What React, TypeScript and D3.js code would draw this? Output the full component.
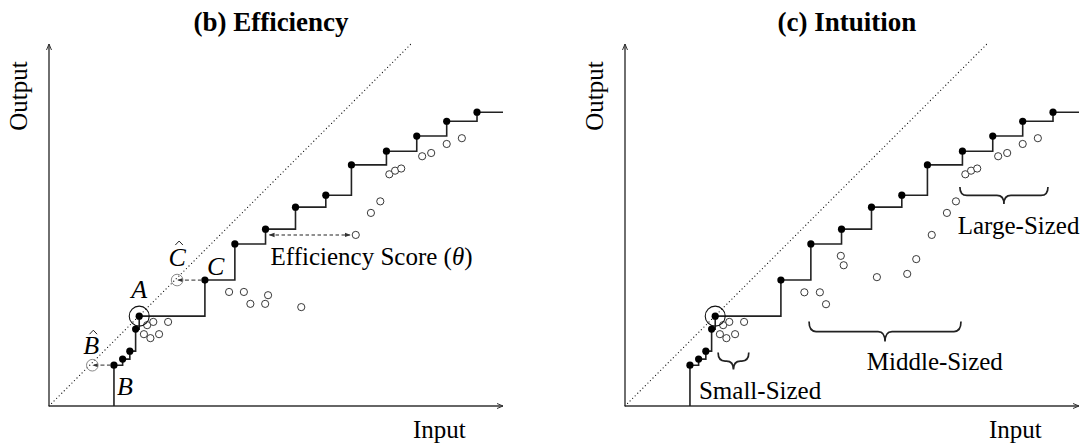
import React from "react";
import * as d3 from "d3";

// ---- data (Input / Output units) ----
const X_MAX = 12.58;
const Y_MAX = 10.03;
const DIAG_END = 10.05;

const frontierInput = [1.8, 2.04, 2.24, 2.4, 2.5, 4.32, 5.15, 6.0, 6.83, 7.67, 8.38, 9.35, 10.19, 11.02, 11.86];
const frontierOutput = [1.13, 1.3, 1.52, 2.13, 2.49, 3.49, 4.49, 4.9, 5.51, 5.84, 6.68, 7.06, 7.48, 7.89, 8.14];

const smallInput = [2.72, 2.89, 3.3, 2.63, 2.81, 3.05];
const smallOutput = [2.24, 2.33, 2.33, 1.99, 1.88, 1.99];

const largeInput = [9.43, 9.59, 9.76, 10.34, 10.59, 11.02, 11.44];
const largeOutput = [6.42, 6.52, 6.58, 6.92, 7.01, 7.26, 7.42];

const effMidInput = [4.99, 5.4, 5.58, 5.99, 6.07, 6.99, 8.5, 8.92, 9.18];
const effMidOutput = [3.16, 3.16, 2.83, 2.83, 3.07, 2.74, 4.74, 5.35, 5.67];

const intMidInput = [4.97, 5.4, 5.57, 5.98, 6.06, 6.98, 7.82, 8.07, 8.5, 8.92, 9.17];
const intMidOutput = [3.15, 3.15, 2.82, 4.16, 3.9, 3.57, 3.66, 4.07, 4.74, 5.35, 5.67];

const panelTitles = ["(b) Efficiency", "(c) Intuition"];
const axisLabels = ["Input", "Output"];

// efficiency projections
const bHat = [1.2, 1.13];
const cHat = [3.55, 3.49];
const efficientIndex = 4; // A
const bIndex = 0;
const cIndex = 5;
const scoreFromIndex = 7;
const scoreTarget = [8.5, 4.74];

// size groups (intuition panel)
const groupNames = ["Small-Sized", "Middle-Sized", "Large-Sized"];
const groupStart = [2.58, 5.1, 9.28];
const groupEnd = [3.43, 9.31, 11.72];
const groupTop = [1.48, 2.34, 6.07];
const groupLabelX = [2.05, 6.7, 9.22];
const groupLabelY = [0.19, 1.0, 4.76];

const SERIF = "'Liberation Serif', 'Times New Roman', serif";

function bracePath(x0: number, x1: number, y0: number, h: number) {
  const xm = (x0 + x1) / 2;
  const ym = y0 + h * 0.5;
  const y1 = y0 + h;
  const r = Math.min(7, (x1 - x0) / 4);
  return `M${x0},${y0} Q${x0},${ym} ${x0 + r},${ym} L${xm - r},${ym} Q${xm},${ym} ${xm},${y1} Q${xm},${ym} ${xm + r},${ym} L${x1 - r},${ym} Q${x1},${ym} ${x1},${y0}`;
}

function hatPath(cx: number, baseY: number) {
  return `M${cx - 3.8},${baseY + 4} L${cx},${baseY} L${cx + 3.8},${baseY + 4}`;
}

function Panel({ ox, idx }: { ox: number; idx: number }) {
  const x = d3.scaleLinear().domain([0, X_MAX]).range([ox, ox + 454]);
  const y = d3.scaleLinear().domain([0, Y_MAX]).range([406, 44]);
  const pts: [number, number][] = [
    [frontierInput[0], 0],
    ...frontierInput.map((v, i) => [v, frontierOutput[i]] as [number, number]),
    [X_MAX, frontierOutput[frontierOutput.length - 1]],
  ];
  const step = d3
    .line<[number, number]>()
    .x((d) => x(d[0]))
    .y((d) => y(d[1]))
    .curve(d3.curveStepAfter)(pts) as string;

  const midX = idx === 0 ? effMidInput : intMidInput;
  const midY = idx === 0 ? effMidOutput : intMidOutput;
  const hollowX = [...smallInput, ...midX, ...largeInput];
  const hollowY = [...smallOutput, ...midY, ...largeOutput];

  const ax = x(frontierInput[efficientIndex]);
  const ay = y(frontierOutput[efficientIndex]);

  return (
    <g>
      <text x={ox + 222} y={31} textAnchor="middle" fontFamily={SERIF} fontWeight="bold" fontSize={27}>
        {panelTitles[idx]}
      </text>
      {/* axes */}
      <line x1={x(0)} y1={y(0)} x2={x(X_MAX)} y2={y(0)} stroke="#333" strokeWidth={1.4} markerEnd="url(#axTip)" />
      <line x1={x(0)} y1={y(0)} x2={x(0)} y2={y(Y_MAX)} stroke="#333" strokeWidth={1.4} markerEnd="url(#axTip)" />
      <text x={ox + 364} y={438} fontFamily={SERIF} fontSize={25}>
        {axisLabels[0]}
      </text>
      <text transform={`translate(${ox - 22},96) rotate(-90)`} textAnchor="middle" fontFamily={SERIF} fontSize={25}>
        {axisLabels[1]}
      </text>
      {/* diagonal */}
      <line
        x1={x(0)}
        y1={y(0)}
        x2={x(DIAG_END)}
        y2={y(DIAG_END)}
        stroke="#222"
        strokeWidth={1.3}
        strokeDasharray="0,3.6"
        strokeLinecap="round"
      />
      {/* frontier */}
      <path d={step} fill="none" stroke="#222" strokeWidth={1.6} />
      {hollowX.map((v, i) => (
        <circle key={"h" + i} cx={x(v)} cy={y(hollowY[i])} r={3.6} fill="white" stroke="#222" strokeWidth={0.9} />
      ))}
      {frontierInput.map((v, i) => (
        <circle key={"f" + i} cx={x(v)} cy={y(frontierOutput[i])} r={3.6} fill="#000" />
      ))}
      <circle cx={ax} cy={ay} r={10} fill="none" stroke="#111" strokeWidth={1.1} />

      {idx === 0 && (
        <g>
          {/* projections */}
          <line
            x1={x(frontierInput[bIndex]) - 3}
            y1={y(frontierOutput[bIndex])}
            x2={x(bHat[0]) + 1}
            y2={y(bHat[1])}
            stroke="#555"
            strokeWidth={1.3}
            strokeDasharray="4,2.5"
            markerEnd="url(#smallTip)"
          />
          <circle cx={x(bHat[0])} cy={y(bHat[1])} r={5.8} fill="none" stroke="#888" strokeWidth={1} />
          <line
            x1={x(frontierInput[cIndex]) - 3}
            y1={y(frontierOutput[cIndex])}
            x2={x(cHat[0]) + 1}
            y2={y(cHat[1])}
            stroke="#555"
            strokeWidth={1.3}
            strokeDasharray="4,2.5"
            markerEnd="url(#smallTip)"
          />
          <circle cx={x(cHat[0])} cy={y(cHat[1])} r={5.8} fill="none" stroke="#888" strokeWidth={1} />
          {/* score arrow */}
          <line
            x1={x(frontierInput[scoreFromIndex]) + 4}
            y1={y(scoreTarget[1])}
            x2={x(scoreTarget[0]) - 6}
            y2={y(scoreTarget[1])}
            stroke="#222"
            strokeWidth={1.1}
            strokeDasharray="3.5,2.5"
            markerStart="url(#smallTipRev)"
            markerEnd="url(#smallTip)"
          />
          {/* labels */}
          <text x={ax} y={ay - 18} textAnchor="middle" fontFamily={SERIF} fontStyle="italic" fontSize={26}>
            A
          </text>
          <text
            x={x(frontierInput[cIndex]) + 2}
            y={y(frontierOutput[cIndex]) - 5}
            fontFamily={SERIF}
            fontStyle="italic"
            fontSize={26}
          >
            C
          </text>
          <text x={x(cHat[0])} y={y(cHat[1]) - 14} textAnchor="middle" fontFamily={SERIF} fontStyle="italic" fontSize={26}>
            C
          </text>
          <path d={hatPath(x(cHat[0]) + 2, y(cHat[1]) - 39)} fill="none" stroke="#222" strokeWidth={1} />
          <text x={x(bHat[0]) - 1} y={y(bHat[1]) - 11} textAnchor="middle" fontFamily={SERIF} fontStyle="italic" fontSize={26}>
            B
          </text>
          <path d={hatPath(x(bHat[0]) + 1, y(bHat[1]) - 35)} fill="none" stroke="#222" strokeWidth={1} />
          <text
            x={x(frontierInput[bIndex]) + 3}
            y={y(frontierOutput[bIndex]) + 30}
            fontFamily={SERIF}
            fontStyle="italic"
            fontSize={26}
          >
            B
          </text>
          <text
            x={x(frontierInput[scoreFromIndex]) + 5}
            y={y(scoreTarget[1]) + 30}
            fontFamily={SERIF}
            fontSize={25}
          >
            Efficiency Score (<tspan fontStyle="italic">θ</tspan>)
          </text>
        </g>
      )}

      {idx === 1 && (
        <g>
          {groupNames.map((g, i) => (
            <g key={g}>
              <path
                d={bracePath(x(groupStart[i]), x(groupEnd[i]), y(groupTop[i]), i === 1 ? 20 : 17)}
                fill="none"
                stroke="#222"
                strokeWidth={1.7}
              />
              <text x={x(groupLabelX[i])} y={y(groupLabelY[i])} fontFamily={SERIF} fontSize={25}>
                {g}
              </text>
            </g>
          ))}
        </g>
      )}
    </g>
  );
}

export default function App() {
  return (
    <svg
      width={1081}
      height={446}
      style={{ position: "absolute", left: 0, top: 0, background: "white" }}
    >
      <defs>
        <marker id="axTip" viewBox="0 0 8 8" refX="7" refY="4" markerWidth="8" markerHeight="8" markerUnits="userSpaceOnUse" orient="auto">
          <path d="M1,1.5 L7,4 L1,6.5" fill="none" stroke="#333" strokeWidth={1} />
        </marker>
        <marker id="smallTip" viewBox="0 0 6 6" refX="5" refY="3" markerWidth="6" markerHeight="6" markerUnits="userSpaceOnUse" orient="auto">
          <path d="M0,0.8 L6,3 L0,5.2 Z" fill="#333" />
        </marker>
        <marker id="smallTipRev" viewBox="0 0 6 6" refX="1" refY="3" markerWidth="6" markerHeight="6" markerUnits="userSpaceOnUse" orient="auto">
          <path d="M6,0.8 L0,3 L6,5.2 Z" fill="#333" />
        </marker>
      </defs>
      <rect width={1081} height={446} fill="white" />
      <Panel ox={49} idx={0} />
      <Panel ox={625} idx={1} />
    </svg>
  );
}
